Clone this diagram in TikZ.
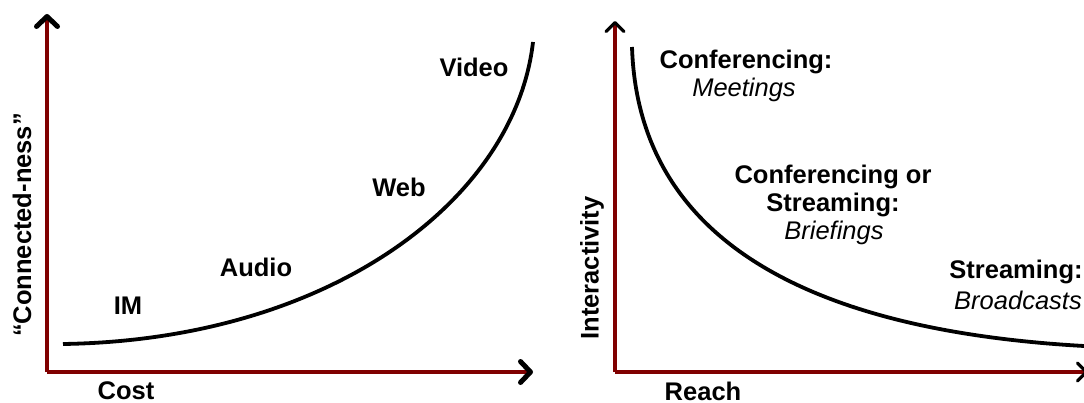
\documentclass[tikz,border=0pt]{standalone}
\usepackage{fontspec}
\setmainfont{Liberation Sans}
\usetikzlibrary{arrows.meta}
\definecolor{axisred}{RGB}{128,0,0}
\begin{document}
\begin{tikzpicture}[x=1pt,y=-1pt,
  axis/.style={draw=axisred,line width=3.5pt},
  bigtip/.style={-{Straight Barb[length=10pt,width=21pt,line width=5pt,color=black,round]}},
  smalltip/.style={-{Straight Barb[length=9pt,width=18pt,line width=3.2pt,color=black,round]}},
  curve/.style={draw=black,line width=3.8pt},
  lbl/.style={font=\fontsize{25.5}{28}\selectfont\bfseries,inner sep=0pt,align=center},
  sub/.style={font=\fontsize{25.5}{28}\selectfont\itshape,inner sep=0pt},
]
\useasboundingbox (0,0) rectangle (1084,403);

% left chart: cost versus connected-ness
\coordinate (lo) at (47,372);
\coordinate (ly) at (47,14);
\coordinate (lx) at (533,372);
\draw[axis,bigtip] (lo) -- (ly);
\draw[axis,bigtip] (lo) -- (lx);
\coordinate (c1s) at (63,344);
\coordinate (c1e) at (533,42);
\draw[curve] (c1s) .. controls (330,340) and (515,200) .. (c1e);

\node[lbl,rotate=90] (yl) at (22,225) {“Connected-ness”};
\node[lbl] (xl) at (126,391) {Cost};
\node[lbl] (im) at (128,306) {IM};
\node[lbl] (audio) at (256,267) {Audio};
\node[lbl] (web) at (399,187) {Web};
\node[lbl] (video) at (474,67) {Video};

% right chart: reach versus interactivity
\coordinate (ro) at (615,372);
\coordinate (ry) at (615,21);
\coordinate (rx) at (1088,372);
\draw[axis,smalltip] (ro) -- (ry);
\draw[axis,smalltip] (ro) -- (rx);
\coordinate (c2s) at (632,47);
\coordinate (c2e) at (1084,346);
\draw[curve] (c2s) .. controls (638,235) and (800,330) .. (c2e);

\node[lbl,rotate=90] (yr) at (592,268) {Interactivity};
\node[lbl] (xr) at (703,391) {Reach};
\node[lbl] (conf) at (746,62) {Conferencing:};
\node[sub] (meet) at (744,90) {Meetings};
\node[lbl] (cs) at (833,191) {Conferencing or\\Streaming:};
\node[sub] (brief) at (834,233) {Briefings};
\node[lbl] (str) at (1016,272) {Streaming:};
\node[sub] (broad) at (1018,300) {Broadcasts};
\end{tikzpicture}
\end{document}
